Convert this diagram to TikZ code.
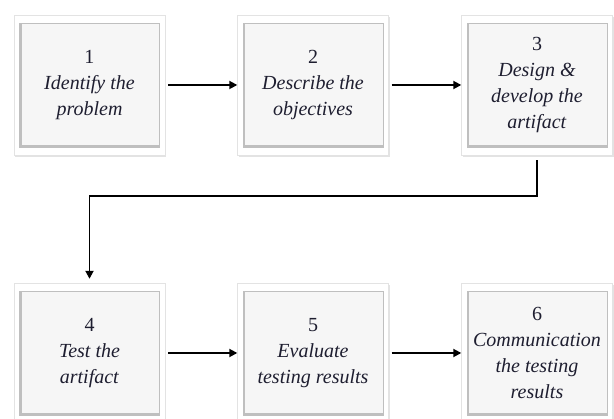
\documentclass[tikz,border=0pt]{standalone}
\usepackage{fontspec}
\setmainfont{Liberation Serif}
\usepackage{xcolor}
\usetikzlibrary{arrows.meta,shadows}
\definecolor{stepink}{RGB}{30,30,48}
\tikzstyle{stepbox} = [rectangle, minimum width=151pt, minimum height=140pt, inner sep=0pt,
  fill=white, draw=gray!22, drop shadow={opacity=0.22, shadow xshift=1pt, shadow yshift=-2pt},
  align=center, text=stepink, font=\fontsize{20}{26}\selectfont,
  path picture={
    \fill[gray!50] ([shift={(5pt,7pt)}]path picture bounding box.south west) rectangle ([shift={(-5pt,-8pt)}]path picture bounding box.north east);
    \fill[gray!7] ([shift={(7.5pt,10pt)}]path picture bounding box.south west) rectangle ([shift={(-6pt,-9pt)}]path picture bounding box.north east);
  }]

\begin{document}
\begin{tikzpicture}[x=1pt,y=1pt]
\tikzset{flow/.style={draw=black, line width=1.8pt, -{Triangle[length=8pt,width=8pt]}}}
\clip (0,0) rectangle (614,419);
\fill[white] (0,0) rectangle (614,419);

\node[stepbox] (s1) at (89.5,334) {1\\\textit{Identify the}\\\textit{problem}};
\node[stepbox] (s2) at (313,334) {2\\\textit{Describe the}\\\textit{objectives}};
\node[stepbox] (s3) at (537,334) {3\\\textit{Design \&}\\\textit{develop the}\\\textit{artifact}};
\node[stepbox] (s4) at (89.5,66) {4\\\textit{Test the}\\\textit{artifact}};
\node[stepbox] (s5) at (313,66) {5\\\textit{Evaluate}\\\textit{testing results}};
\node[stepbox] (s6) at (537,66) {6\\\textit{Communication}\\\textit{the testing}\\\textit{results}};

\foreach \from/\to in {s1/s2,s2/s3,s4/s5,s5/s6}
{
	\draw[flow, shorten <=3pt] (\from) -- (\to);
}
\draw[flow, shorten <=5pt, shorten >=4pt] (s3.south) -- ++(0,-41) -| (s4.north);

\end{tikzpicture}
\end{document}
